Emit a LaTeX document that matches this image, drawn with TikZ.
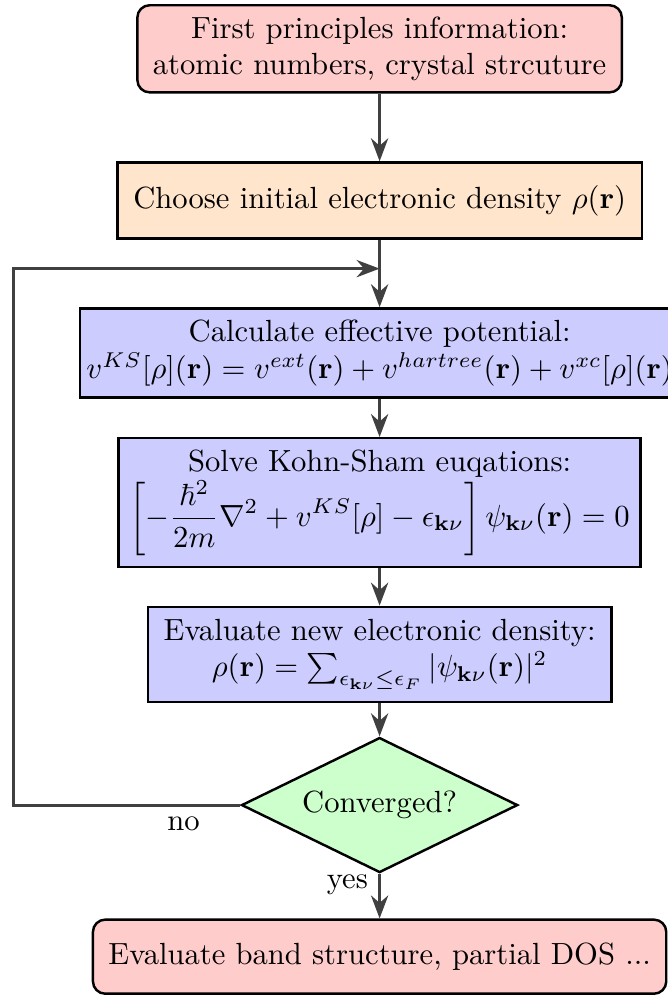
\documentclass[tikz,border=0pt]{standalone}
\usepackage{amsmath, amssymb}
\usepackage{tikz}
\usetikzlibrary{arrows.meta,positioning,shapes.geometric,calc}

\begin{document}
\begin{tikzpicture}[thick,
        box/.style={draw, align=center, inner sep=2pt},
        flow/.style={-{Stealth}, line width=1pt, draw=black!75}]
        \useasboundingbox (-4.357,0) rectangle (3.30,-11.42);

        % Entrada
        \node[box, rounded corners, fill=red!20, minimum width=5.56cm, minimum height=1.00cm] (info) at (0,-0.56) {First principles information:\\atomic numbers, crystal strcuture};
        \node[box, fill=orange!20, minimum width=6.02cm, minimum height=0.87cm] (init) at (0,-2.30) {Choose initial electronic density $\rho(\mathbf{r})$};

        % Ciclo autoconsistente
        \node[box, fill=blue!20, minimum width=6.88cm, minimum height=1.02cm] (pot) at (0,-4.05) {Calculate effective potential:\\$v^{KS}[\rho](\mathbf{r}) = v^{ext}(\mathbf{r}) + v^{hartree}(\mathbf{r}) + v^{xc}[\rho](\mathbf{r})$};
        \node[box, fill=blue!20, minimum width=5.99cm, minimum height=1.48cm] (ks) at (0,-5.77) {Solve Kohn-Sham euqations:\\$\displaystyle\left[-\frac{\hbar^2}{2m}\nabla^2 + v^{KS}[\rho] - \epsilon_{\mathbf{k}\nu}\right]\psi_{\mathbf{k}\nu}(\mathbf{r}) = 0$};
        \node[box, fill=blue!20, minimum width=5.32cm, minimum height=1.09cm] (dens) at (0,-7.51) {Evaluate new electronic density:\\$\rho(\mathbf{r}) = \sum_{\epsilon_{\mathbf{k}\nu}\leq\epsilon_F} |\psi_{\mathbf{k}\nu}(\mathbf{r})|^2$};
        \node[diamond, draw, fill=green!20, aspect=2, minimum width=3.17cm, minimum height=1.55cm, inner sep=0pt] (conv) at (0,-9.24) {Converged?};

        % Saida
        \node[box, rounded corners, fill=red!20, minimum width=6.58cm, minimum height=0.85cm] (bands) at (0,-10.98) {Evaluate band structure, partial DOS ...};

        % Setas
        \coordinate (join) at ($(init.south)!0.43!(pot.north)$);
        \coordinate (back) at (-4.20,0);
        \draw[flow] (info) -- (init);
        \draw[flow] (init) -- (pot);
        \draw[flow] (pot) -- (ks);
        \draw[flow] (ks) -- (dens);
        \draw[flow] (dens) -- (conv);
        \draw[flow] (conv) -- node[left, pos=0.25] {yes} (bands);
        \draw[flow] (conv.west) -- node[below, pos=0.25] {no} (conv.west -| back) |- (join);
    \end{tikzpicture}
\end{document}
